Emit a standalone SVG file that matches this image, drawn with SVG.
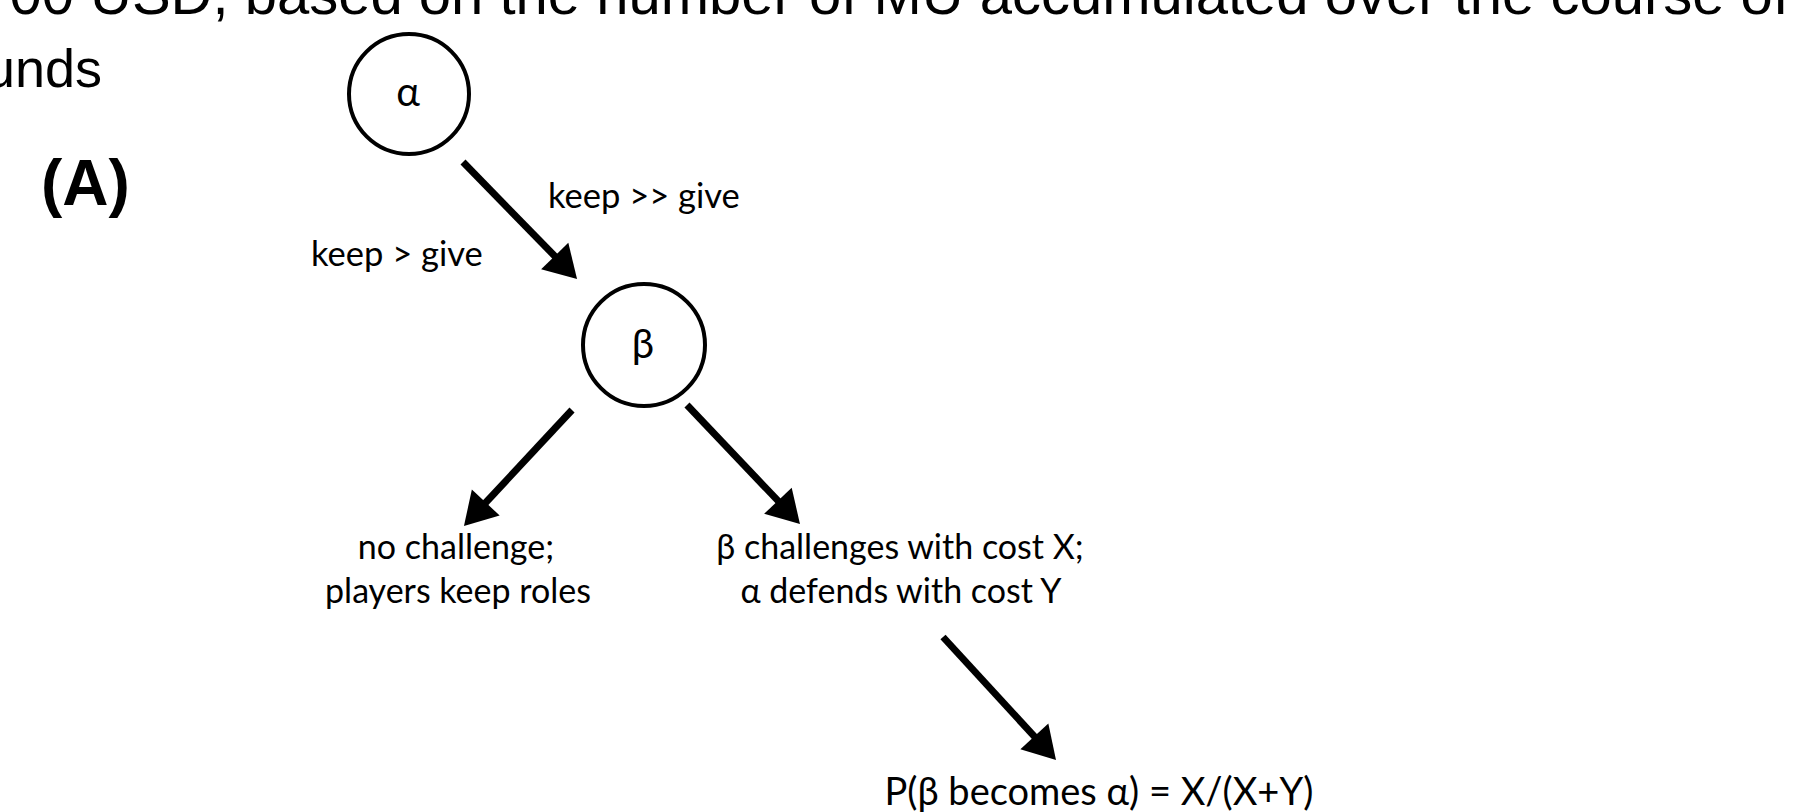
<svg xmlns="http://www.w3.org/2000/svg" width="1816" height="812" viewBox="0 0 1816 812">
<defs>
<style>
.head{font-family:"Liberation Sans",Arial,sans-serif;fill:#000}
.lbl{font-family:Lato,"Open Sans",sans-serif;font-size:34.5px;fill:#000}
.greek{font-family:Lato,"Open Sans",sans-serif;font-size:40px;fill:#000}
.out{font-family:Lato,"Open Sans",sans-serif;font-size:34px;fill:#000}
.big{font-family:Lato,"Open Sans",sans-serif;font-size:38px;fill:#000}
.node{fill:#fff;stroke:#000;stroke-width:4}
.conn{stroke:#000;stroke-width:7;fill:none}
</style>
<marker id="ah" markerUnits="userSpaceOnUse" markerWidth="40" markerHeight="40" viewBox="0 -20 34 40" refX="2" refY="0" orient="auto">
<path d="M0,-19 L32,0 L0,19 z" fill="#000"/>
</marker>
</defs>
<rect width="1816" height="812" fill="#fff"/>
<text class="head" x="1789" y="14" font-size="58" text-anchor="end">00 USD, based on the number of MU accumulated over the course of</text>
<text class="head" x="102" y="87" font-size="54" text-anchor="end">unds</text>
<text x="41" y="205" font-family="Liberation Sans,Arial,sans-serif" font-weight="bold" font-size="64">(A)</text>
<g id="connectors">
<line class="conn" x1="463" y1="162" x2="556.1" y2="257.5" marker-end="url(#ah)"/>
<line class="conn" x1="572" y1="410" x2="484.4" y2="504" marker-end="url(#ah)"/>
<line class="conn" x1="687" y1="405" x2="779.3" y2="502.2" marker-end="url(#ah)"/>
<line class="conn" x1="943" y1="637" x2="1035.7" y2="737.9" marker-end="url(#ah)"/>
<text class="lbl" x="548" y="208">keep &gt;&gt; give</text>
<text class="lbl" x="311" y="266">keep &gt; give</text>
</g>
<g id="alpha">
<circle class="node" cx="409" cy="94" r="60"/>
<text class="greek" x="408" y="106" text-anchor="middle">α</text>
</g>
<g id="beta">
<circle class="node" cx="644" cy="345" r="61"/>
<text class="greek" x="643" y="358" text-anchor="middle">β</text>
</g>
<g id="no-challenge">
<text class="out" x="456" y="559" text-anchor="middle">no challenge;</text>
<text class="out" x="458" y="603" text-anchor="middle">players keep roles</text>
</g>
<g id="challenge">
<text class="out" x="900" y="559" text-anchor="middle">β challenges with cost X;</text>
<text class="out" x="901" y="603" text-anchor="middle">α defends with cost Y</text>
</g>
<g id="outcome">
<text class="big" x="1099" y="805" text-anchor="middle">P(β becomes α) = X/(X+Y)</text>
</g>
</svg>
